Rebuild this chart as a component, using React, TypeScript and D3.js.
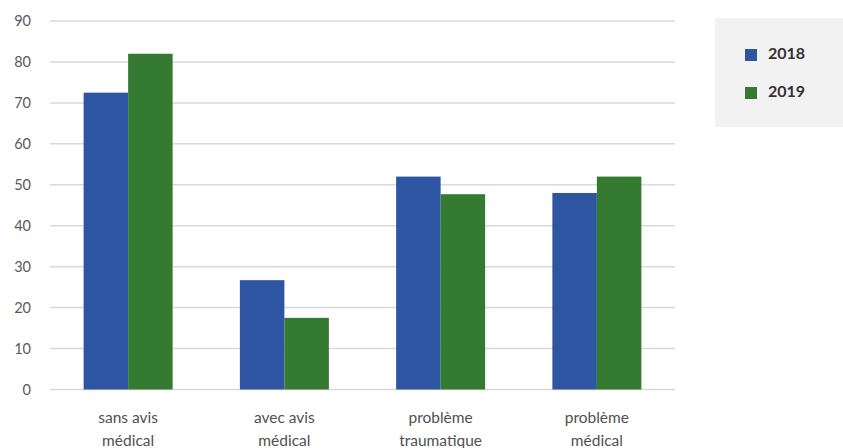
import React from "react";
import * as d3 from "d3";

const categories = [["sans avis", "médical"], ["avec avis", "médical"], ["problème", "traumatique"], ["problème", "médical"]];
const series = ["2018", "2019"];
const values2018 = [72.5, 26.7, 52, 48];
const values2019 = [82, 17.5, 47.7, 52];
const yTicks = [0, 10, 20, 30, 40, 50, 60, 70, 80, 90];
const colors = ["#2E55A2", "#357A31"];

const W = 843, H = 448;
const left = 50, right = 675, top = 21, bottom = 389.5;

export default function App() {
  const x = d3.scaleBand<number>().domain(d3.range(categories.length)).range([left, right]).paddingInner(0).paddingOuter(0);
  const y = d3.scaleLinear().domain([0, 90]).range([bottom, top]);
  const barW = 44.5;
  const data = [values2018, values2019];
  const font = "Lato, 'Open Sans', sans-serif";
  return (
    <svg width={W} height={H} style={{ position: "absolute", left: 0, top: 0, background: "#fff" }} fontFamily={font}>
      {yTicks.map((t) => (
        <g key={t}>
          <line x1={left} x2={right} y1={y(t)} y2={y(t)} stroke="#d9d9d9" strokeWidth={1.5} />
          <text x={31} y={y(t)} dy="0.35em" textAnchor="end" fontSize={14.5} fill="#595959">{t}</text>
        </g>
      ))}
      {categories.map((c, i) => {
        const cx = x(i)! + x.bandwidth() / 2;
        return (
          <g key={i}>
            {data.map((vals, s) => (
              <rect key={s} x={cx - barW + s * barW} y={y(vals[i])} width={barW} height={y(0) - y(vals[i])} fill={colors[s]} />
            ))}
            <text x={cx} y={423} textAnchor="middle" fontSize={15.5} fill="#505050">{c[0]}</text>
            <text x={cx} y={446} textAnchor="middle" fontSize={15.5} fill="#505050">{c[1]}</text>
          </g>
        );
      })}
      <rect x={715} y={18} width={128} height={109} fill="#f2f2f2" />
      {series.map((s, i) => (
        <g key={s}>
          <rect x={745} y={49 + i * 38} width={12} height={12} fill={colors[i]} />
          <text x={768} y={53 + i * 38} dy="0.35em" fontSize={16} fontWeight={700} fill="#333">{s}</text>
        </g>
      ))}
    </svg>
  );
}
